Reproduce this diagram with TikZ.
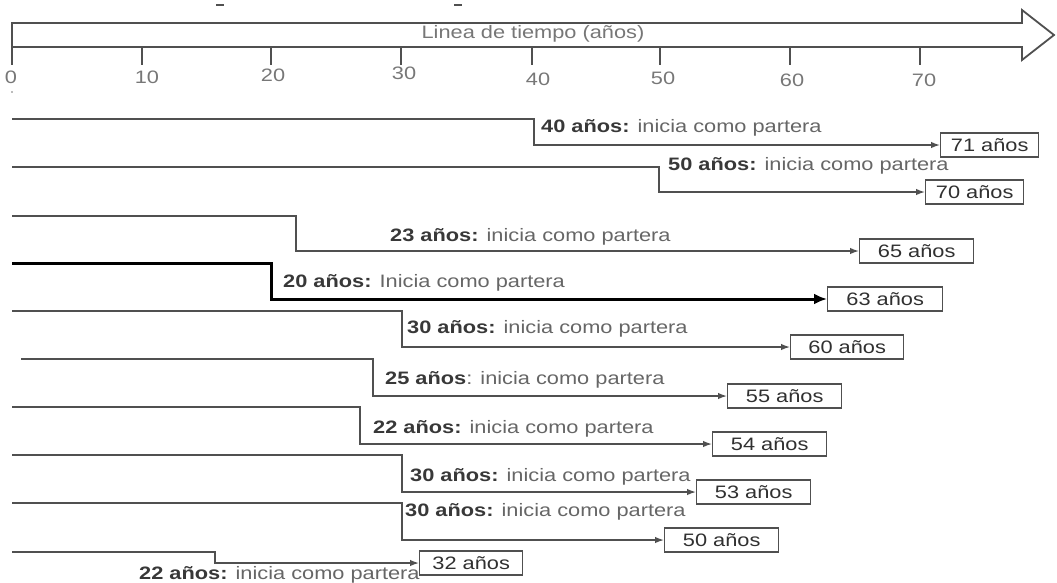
\documentclass[tikz,border=0pt]{standalone}
\usepackage{fontspec}
\setmainfont{Liberation Sans}[FakeStretch=1.21]
\usetikzlibrary{arrows.meta}
\definecolor{linec}{HTML}{505050}
\definecolor{txtc}{HTML}{666666}
\definecolor{boldc}{HTML}{383838}
\definecolor{boxt}{HTML}{303030}
\definecolor{tickt}{HTML}{777777}
\tikzset{
  conn/.style={draw=linec, line width=1.4pt, -{Latex[length=9pt,width=6.5pt]}},
  thickconn/.style={draw=black, line width=3pt, -{Latex[length=13pt,width=11pt]}},
  agebox/.style={draw=linec, line width=1.4pt, fill=white, minimum height=24pt, inner sep=0pt, text=boxt, anchor=west, font=\fontsize{18}{20}\selectfont},
  lbl/.style={anchor=west, inner sep=0pt, text=txtc, font=\fontsize{18}{20}\selectfont},
  ticklbl/.style={inner sep=0pt, text=tickt, font=\fontsize{18}{20}\selectfont},
  tickln/.style={draw=linec, line width=1.8pt},
}
\newcommand{\bnum}[1]{{\bfseries\color{boldc}#1}}
\begin{document}
\begin{tikzpicture}[x=1pt,y=-1pt]
\useasboundingbox (0,0) rectangle (1057,582);
% timeline arrow
\draw[draw=linec, line width=1.8pt, fill=white, line join=miter]
  (12,23) -- (1022,23) -- (1022,10) -- (1054,35) -- (1022,60) -- (1022,47) -- (12,47) -- cycle;
\node[ticklbl] (tl) at (533,34) {Linea de tiempo (años)};
% ticks
\foreach \x/\l/\lx/\ly in {12/0/11/77, 142/10/147/77, 271/20/273/75, 401/30/404/73, 532/40/538/79, 660/50/663/78, 790/60/792/80, 920/70/924/80}{
  \draw[tickln] (\x,47) -- (\x,65);
  \node[ticklbl] (t\l) at (\lx,\ly) {\l};
}
% small marks
\draw[linec, line width=1.2pt] (216,5) -- (224,5);
\draw[linec, line width=1.2pt] (454,5) -- (462,5);
\fill[tickt] (12,92) circle (0.9pt);

% row 1
\coordinate (s1) at (12,119); \coordinate (k1) at (534,145);
\node[agebox, minimum width=98pt] (b1) at (940,145) {71 años};
\draw[conn] (s1) -| (k1) -- (b1.west);
\node[lbl] (l1) at (541,128) {\bnum{40 años:} inicia como partera};
% row 2
\coordinate (s2) at (12,167); \coordinate (k2) at (659,192);
\node[agebox, minimum width=98pt] (b2) at (925,192) {70 años};
\draw[conn] (s2) -| (k2) -- (b2.west);
\node[lbl] (l2) at (668,166) {\bnum{50 años:} inicia como partera};
% row 3
\coordinate (s3) at (12,216); \coordinate (k3) at (296,251);
\node[agebox, minimum width=114pt] (b3) at (859,251) {65 años};
\draw[conn] (s3) -| (k3) -- (b3.west);
\node[lbl] (l3) at (390,237) {\bnum{23 años:} inicia como partera};
% row 4 (thick)
\coordinate (s4) at (12,263); \coordinate (k4) at (271,299);
\node[agebox, minimum width=115pt] (b4) at (827,299) {63 años};
\draw[thickconn] (s4) -| (k4) -- (b4.west);
\node[lbl] (l4) at (283,283) {\bnum{20 años:} Inicia como partera};
% row 5
\coordinate (s5) at (12,311); \coordinate (k5) at (402,347);
\node[agebox, minimum width=113pt] (b5) at (790,347) {60 años};
\draw[conn] (s5) -| (k5) -- (b5.west);
\node[lbl] (l5) at (407,329) {\bnum{30 años:} inicia como partera};
% row 6
\coordinate (s6) at (21,359); \coordinate (k6) at (373,396);
\node[agebox, minimum width=114pt] (b6) at (727,396) {55 años};
\draw[conn] (s6) -| (k6) -- (b6.west);
\node[lbl] (l6) at (385,380) {\bnum{25 años}: inicia como partera};
% row 7
\coordinate (s7) at (12,407); \coordinate (k7) at (360,444);
\node[agebox, minimum width=114pt] (b7) at (712,444) {54 años};
\draw[conn] (s7) -| (k7) -- (b7.west);
\node[lbl] (l7) at (373,429) {\bnum{22 años:} inicia como partera};
% row 8
\coordinate (s8) at (12,455); \coordinate (k8) at (402,492);
\node[agebox, minimum width=114pt] (b8) at (696,492) {53 años};
\draw[conn] (s8) -| (k8) -- (b8.west);
\node[lbl] (l8) at (410,477) {\bnum{30 años:} inicia como partera};
% row 9
\coordinate (s9) at (12,503); \coordinate (k9) at (402,540);
\node[agebox, minimum width=114pt] (b9) at (664,540) {50 años};
\draw[conn] (s9) -| (k9) -- (b9.west);
\node[lbl] (l9) at (405,512) {\bnum{30 años:} inicia como partera};
% row 10
\coordinate (s10) at (12,552); \coordinate (k10) at (215,563);
\node[agebox, minimum width=103pt] (b10) at (419,563) {32 años};
\draw[conn] (s10) -| (k10) -- (b10.west);
\node[lbl] (l10) at (139,575) {\bnum{22 años:} inicia como partera};
\end{tikzpicture}
\end{document}
